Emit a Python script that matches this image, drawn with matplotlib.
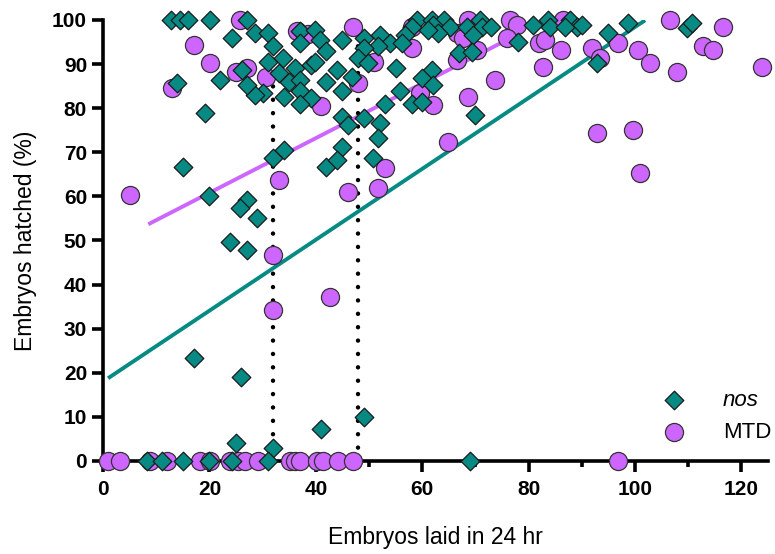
import matplotlib
matplotlib.use("Agg")
import matplotlib.pyplot as plt
import numpy as np

# nos embryos: (laid, hatched %)
nos_x = [12.8, 14.5, 16, 20.1, 27, 24.2, 28.6, 31, 32, 37, 39.8, 37, 40.8, 42, 31, 33.9, 33, 36,
         39, 39.8, 35, 37, 37, 39, 37, 34, 30, 28.6, 27, 26.1, 22, 13.9, 19.2, 42, 15, 32, 34, 42,
         20, 27, 25.8, 29, 23.9, 27, 17, 26, 25, 32, 41, 49,
         8.2, 11, 15, 20, 24.2, 31, 69,
         59, 61.8, 64, 65.2, 62, 63, 61, 58, 56.8, 68.4, 70.9, 71.2, 73, 69.5, 67, 69.3, 78, 80.8,
         45, 49, 52, 54, 51.7, 56.2, 49, 48, 49.8, 55, 44, 46.8, 45, 61.8, 60, 62, 55.8, 58, 60,
         53, 70, 45, 46, 49, 52, 51.7, 45, 44, 50.8,
         83.6, 84, 87.8, 89, 90, 86.8, 98.7, 109.8, 110.7, 95, 92.8]
nos_y = [100, 100, 100, 100, 100, 95.8, 97, 97, 94, 97.4, 97.7, 94.7, 95.5, 93, 90.5, 91.3, 88, 89,
         89.8, 90.5, 86, 86.4, 83.8, 82.3, 81, 82.6, 83.4, 83, 85.3, 88.7, 86.4, 85.7, 78.9, 86, 66.7,
         68.7, 70.5, 66.7, 60, 59.2, 57.4, 55, 49.7, 47.8, 23.4, 19, 4, 3, 7.3, 10,
         0, 0, 0, 0, 0, 0, 0,
         100, 100, 100, 98.5, 98.9, 97, 97.7, 98.5, 96.6, 98.5, 100, 98.5, 98.5, 96.6, 92.5, 92.8,
         95, 98.9,
         95.5, 96, 96.6, 94.7, 94, 94.7, 93.6, 91.3, 90.2, 89, 88.7, 87, 84, 88.7, 86.8, 85.2, 84,
         81, 81.4, 81, 78.4, 78, 76.2, 77.7, 76.6, 73.2, 71.3, 68.3, 68.7,
         100, 98.5, 100, 98.5, 98.9, 98.5, 99.2, 98.2, 99.3, 97, 90.2]

# MTD embryos: (laid, hatched %)
mtd_x = [25.8, 17, 20.1, 25, 27, 30.7, 13, 36.5, 38.5, 41, 33, 5, 32, 32, 42.7,
         1, 3.2, 8.8, 12, 18.2, 20.1, 23.9, 25.4, 26.7, 29.1, 35.2, 36, 37, 40.2, 41.4, 44.2, 47,
         96.8,
         47, 58, 68.6, 66.5, 67.7, 70.3, 66.5, 58, 51, 48, 62, 59.6, 73.7, 68.6, 64.8, 76.5, 77.8,
         75.9, 82, 82.7, 53, 51.7, 46,
         86.5, 83, 86, 92, 93.4, 96.8, 100.6, 102.8, 106.6, 107.9, 112.8, 114.7, 116.5, 123.9,
         92.8, 99.6, 101]
mtd_y = [100, 94.3, 90.2, 88.3, 89, 87, 84.5, 97.5, 96.8, 80.4, 63.7, 60.3, 46.7, 34.2, 37.2,
         0, 0, 0, 0, 0, 0, 0, 0, 0, 0, 0, 0, 0, 0, 0, 0, 0,
         0,
         98.5, 98.5, 100, 97, 95.9, 93.2, 91, 93.6, 90.5, 85.7, 80.7, 83.4, 86.4, 82.6, 72.3, 100,
         98.9, 96, 94.7, 89.4, 66.4, 61.9, 61,
         100, 95.5, 93.2, 93.6, 91.3, 94.7, 93.2, 90.2, 100, 88.3, 94, 93.2, 98.5, 89.4,
         74.3, 75, 65.3]

# linear fits: intercept, slope, x-range
nos_fit = (18.0, 0.804, 0.94, 101.9)
mtd_fit = (48.4, 0.620, 8.5, 74.6)

# threshold markers on the x-axis
thresholds = [32, 48]

teal = "#078A84"
purple = "#CC66FF"

plt.rcParams["font.family"] = ["Liberation Sans", "DejaVu Sans"]

fig = plt.figure(figsize=(7.75, 5.54), dpi=100)
ax = fig.add_axes([0.133, 0.168, 0.858, 0.796])

for (b, m, x0, x1), col in [(nos_fit, teal), (mtd_fit, purple)]:
    xs = np.array([x0, x1])
    ax.plot(xs, b + m * xs, color=col, lw=2.8, zorder=1, solid_capstyle="butt")

for t in thresholds:
    ax.plot([t, t], [0, 100], color="black", lw=3.2,
            linestyle=(0, (0.01, 3.0)), dash_capstyle="round", zorder=1.5)

ax.scatter(mtd_x, mtd_y, s=170, marker="o", facecolor=purple, edgecolor="#333333",
           linewidth=0.9, zorder=2, clip_on=False, label="MTD")
ax.scatter(nos_x, nos_y, s=90, marker="D", facecolor=teal, edgecolor="#1a1a1a",
           linewidth=0.9, zorder=3, clip_on=False, label="nos")

ax.set_xlim(0, 125)
ax.set_ylim(0, 100)
ax.set_xticks(np.arange(0, 121, 20))
ax.set_xticks(np.arange(10, 121, 20), minor=True)
ax.set_yticks(np.arange(0, 101, 10))

for side in ["top", "right"]:
    ax.spines[side].set_visible(False)
for side in ["left", "bottom"]:
    ax.spines[side].set_linewidth(2.6)
    ax.spines[side].set_zorder(0.5)

ax.tick_params(axis="both", which="major", length=8, width=2.6, labelsize=15)
ax.tick_params(axis="x", which="major", pad=6)
ax.tick_params(axis="y", which="major", pad=3.5)
ax.tick_params(axis="x", which="minor", length=4.5, width=2.6)
for lab in ax.get_xticklabels() + ax.get_yticklabels():
    lab.set_fontweight("bold")

ax.set_xlabel("Embryos laid in 24 hr", fontsize=16.5)
ax.set_ylabel("Embryos hatched (%)", fontsize=16.5)
ax.xaxis.set_label_coords(0.5, -0.147)
ax.yaxis.set_label_coords(-0.1, 0.5)

handles, labels = ax.get_legend_handles_labels()
leg = ax.legend(handles[::-1], labels[::-1], loc="lower right", frameon=False, fontsize=16,
                bbox_to_anchor=(1.005, 0.04), handlelength=2.0, handletextpad=1.2,
                labelspacing=0.5, borderaxespad=0.0, borderpad=0.0)
leg.get_texts()[0].set_style("italic")

fig.savefig("out.png", dpi=100)
